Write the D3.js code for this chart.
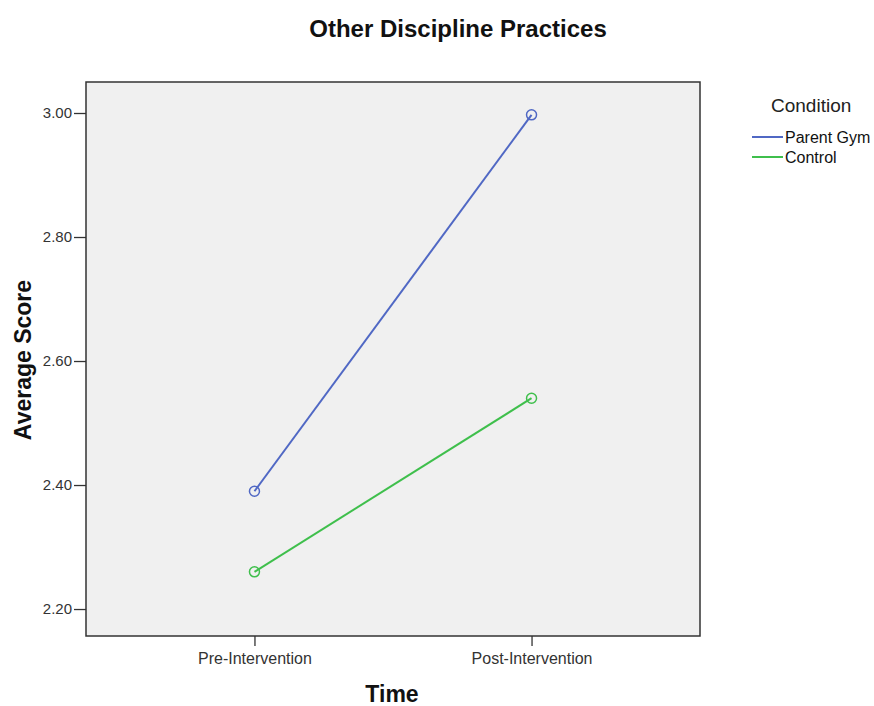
<!DOCTYPE html>
<html><head><meta charset="utf-8">
<script src="https://cdn.jsdelivr.net/npm/d3@7"></script>
<style>body{margin:0;background:#fff;} text{font-family:"Liberation Sans",Arial,sans-serif;}</style>
</head><body>
<svg id="c" width="874" height="706"></svg>
<script>
const categories = ["Pre-Intervention", "Post-Intervention"];
const seriesNames = ["Parent Gym", "Control"];
const parentGym = [2.39, 2.997];
const control = [2.26, 2.54];
const yTicks = [2.20, 2.40, 2.60, 2.80, 3.00];
const colors = ["#5068C4", "#3FBF4C"];

const svg = d3.select("#c");
const L = 86, R = 700, T = 82, B = 636;
const x = d3.scalePoint().domain(categories).range([L, R]).padding(0.608);
const y = d3.scaleLinear().domain([2.1565, 3.05]).range([B, T]);

svg.append("rect").attr("x", L).attr("y", T).attr("width", R - L).attr("height", B - T)
  .attr("fill", "#F0F0F0").attr("stroke", "#333").attr("stroke-width", 1.5);

const yAxis = svg.append("g").attr("transform", `translate(${L},0)`)
  .call(d3.axisLeft(y).tickValues(yTicks).tickFormat(d3.format(".2f")).tickSize(12).tickPadding(2));
yAxis.select(".domain").remove();
yAxis.selectAll("line").attr("stroke", "#333").attr("stroke-width", 1.3);
yAxis.selectAll("text").attr("font-size", 15).attr("fill", "#333")
  .attr("font-family", "'Liberation Sans',Arial,sans-serif");

const xAxis = svg.append("g").attr("transform", `translate(0,${B})`)
  .call(d3.axisBottom(x).tickSize(10).tickPadding(7));
xAxis.select(".domain").remove();
xAxis.selectAll("line").attr("stroke", "#333").attr("stroke-width", 1.3);
xAxis.selectAll("text").attr("font-size", 16).attr("fill", "#333")
  .attr("font-family", "'Liberation Sans',Arial,sans-serif");

const series = [parentGym, control];
const line = d3.line().x((d, i) => x(categories[i])).y(d => y(d));
series.forEach((s, k) => {
  svg.append("path").attr("d", line(s)).attr("fill", "none")
    .attr("stroke", colors[k]).attr("stroke-width", 2);
  svg.selectAll(null).data(s).enter().append("circle")
    .attr("cx", (d, i) => x(categories[i])).attr("cy", d => y(d)).attr("r", 5)
    .attr("fill", "none").attr("stroke", colors[k]).attr("stroke-width", 1.5);
});

svg.append("text").attr("x", 458).attr("y", 37).attr("text-anchor", "middle")
  .attr("font-size", 24).attr("font-weight", "bold").attr("fill", "#111").text("Other Discipline Practices");
svg.append("text").attr("transform", "translate(31,360) rotate(-90)").attr("text-anchor", "middle")
  .attr("font-size", 23).attr("font-weight", "bold").attr("fill", "#111").text("Average Score");
svg.append("text").attr("x", 392).attr("y", 702).attr("text-anchor", "middle")
  .attr("font-size", 23).attr("font-weight", "bold").attr("fill", "#111").text("Time");

svg.append("text").attr("x", 771).attr("y", 112).attr("font-size", 19).attr("fill", "#222").text("Condition");
seriesNames.forEach((n, k) => {
  const yy = 137 + k * 20;
  svg.append("line").attr("x1", 752).attr("x2", 783).attr("y1", yy).attr("y2", yy)
    .attr("stroke", colors[k]).attr("stroke-width", 2);
  svg.append("text").attr("x", 785).attr("y", yy + 6).attr("font-size", 16).attr("fill", "#111").text(n);
});
</script>
</body></html>
